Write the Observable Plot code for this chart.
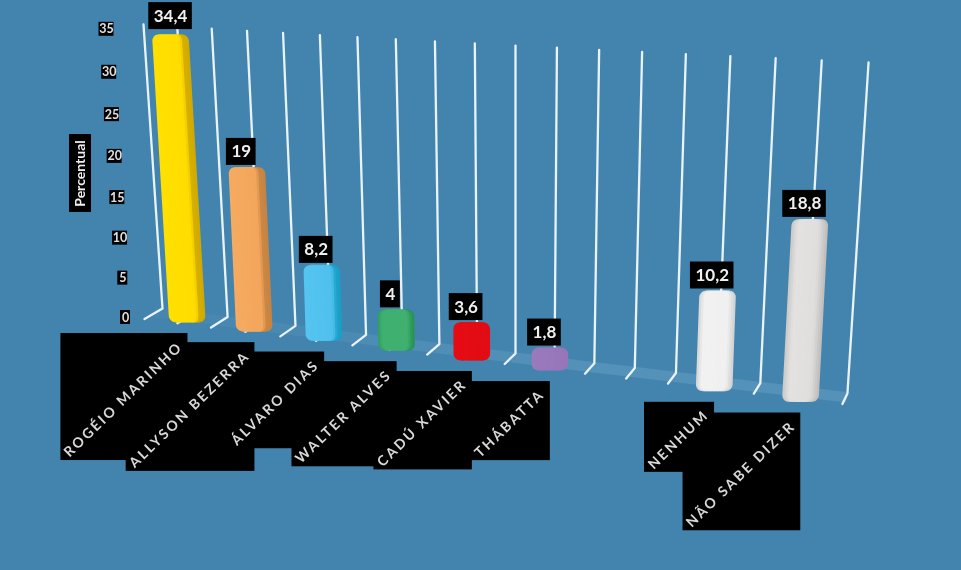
<!DOCTYPE html>
<html>
<head>
<meta charset="utf-8">
<script src="https://cdn.jsdelivr.net/npm/d3@7"></script>
<script src="https://cdn.jsdelivr.net/npm/@observablehq/plot@0.6"></script>
<style>
html,body{margin:0;padding:0;background:#4384ae;overflow:hidden}
svg{display:block;filter:blur(0.55px)}
</style>
</head>
<body>
<div id="chart"></div>
<script>
// ---- data
const categories = ["ROGÉIO MARINHO","ALLYSON BEZERRA","ÁLVARO DIAS","WALTER ALVES","CADÚ XAVIER","THÁBATTA","","NENHUM","NÃO SABE DIZER"];
const values = [34.4,19,8.2,4,3.6,1.8,null,10.2,18.8];
const valueLabels = ["34,4","19","8,2","4","3,6","1,8","","10,2","18,8"];
const ticks = [0,5,10,15,20,25,30,35];
const axisTitle = "Percentual";
// shading across each column: [position, colour]
const shades = [
  [[0,"#ffe000"],[.76,"#ffdc00"],[.84,"#d6b000"],[1,"#cfa800"]],
  [[0,"#f5ab60"],[.74,"#f3a65b"],[.84,"#cb8744"],[1,"#c6823f"]],
  [[0,"#55c4f0"],[.76,"#4fc0ee"],[.86,"#1ea4cc"],[1,"#1a9cc4"]],
  [[0,"#2f9c5c"],[.12,"#40b070"],[.8,"#40b070"],[.92,"#2c9a58"],[1,"#279050"]],
  [[0,"#e60c14"],[1,"#e20c14"]],
  [[0,"#9a7abc"],[1,"#9676b8"]],
  [[0,"#000"],[1,"#000"]],
  [[0,"#d4d4d4"],[.14,"#f1f1f1"],[.8,"#f0f0f0"],[1,"#cfcfcf"]],
  [[0,"#c9c7c5"],[.18,"#e4e2e0"],[.75,"#e0dedc"],[1,"#bdbbb9"]]
];

// ---- the chart's perspective: gridline index -> picture plane
const EDGES = d3.range(19);
const axisMax = 35;
const hingeX = e => 162 + 31.86*e + 0.344*e*e;
const hingeY = e => 308 + 4.22*e + 0.0278*e*e;
const topX   = e => 143 + 33.35*e + 0.385*e*e;
const topY   = e => 24 + 2.11*e;
const plane = (e,v) => { const f=v/axisMax; return [hingeX(e)+(topX(e)-hingeX(e))*f, hingeY(e)+(topY(e)-hingeY(e))*f]; };
const footX = e => hingeX(e) - 18 + 0.72*e;
const footY = e => hingeY(e) + 10.5;

// ---- gridlines
const gridPts = EDGES.flatMap(e => [
  {e,x:footX(e),y:footY(e)},
  {e,x:hingeX(e),y:hingeY(e)},
  {e,x:topX(e),y:topY(e)}
]);

// ---- floor band
const floorPts = d3.range(0,18,1).flatMap(e => [e,e+1].map(k => ({
  e, x:(hingeX(k)+footX(k))/2 + 2, y1:hingeY(k)-1, y2:footY(k)-1, o:0.04+0.2*Math.min(1,e/12)
})));

// ---- columns
const halfW = 18.3, cap = 7, radius = 7;
const shift = e => -7 + 0.25*e;
const sideOffset = e => 10 + 0.25*e;
const rows = categories.map((c,i)=>({c,i,v:values[i],label:valueLabels[i],e:2*i+1})).filter(d=>d.v!=null);
rows.forEach(d=>{
  const off = sideOffset(d.e);
  d.bx = hingeX(d.e)+shift(d.e);
  d.by = hingeY(d.e)+off;
  const [tx,ty] = plane(d.e,d.v);
  d.tx = tx+shift(d.e);
  d.ty = ty+off-cap;
});
const colourAt = (stops,f)=>{
  for(let k=1;k<stops.length;k++) if(f<=stops[k][0]){
    const t=(f-stops[k-1][0])/((stops[k][0]-stops[k-1][0])||1);
    return d3.rgb(d3.interpolateRgb(stops[k-1][1],stops[k][1])(t)).formatHex();
  }
  return stops[stops.length-1][1];
};
const STRIPS = 16;
const stripPts = rows.flatMap(d=>{
  const h = d.by-d.ty;
  const ys = Array.from(new Set([...d3.range(0,radius,0.8),radius,...d3.range(0,radius,0.8).map(q=>h-q).reverse(),h-radius])).filter(q=>q>=0&&q<=h).concat([h]).sort((a,b)=>a-b);
  return d3.range(STRIPS).flatMap(s=>{
    const f0=s/STRIPS,f1=(s+1)/STRIPS,color=colourAt(shades[d.i],(f0+f1)/2);
    const over = s<STRIPS-1 ? 0.8 : 0;   // each strip runs under the next, so no seams
    return ys.map(q=>{
      const near=Math.min(q,h-q), inset= near<radius ? radius-Math.sqrt(Math.max(0,radius*radius-(radius-near)*(radius-near))) : 0;
      const cx=d.tx+(d.bx-d.tx)*q/h, L=cx-halfW+inset, W=2*(halfW-inset);
      return {key:d.i+"-"+s,color,y:d.ty+q,x1:L+f0*W,x2:L+f1*W+over};
    });
  });
});

// ---- text measuring for the black plates
const ctx = document.createElement("canvas").getContext("2d");
const measure = (t,font)=>{ctx.font=font;return ctx.measureText(t).width;};

// value plates
const plates = rows.map(d=>{
  const w=measure(d.label,"700 17px Lato")+10;
  const tall=Math.max(0,d.v-20);
  const cx=d.tx-6+tall*0.4, cy=d.ty-15.5-tall*0.22;
  return {label:d.label,cx,cy,x1:cx-w/2,x2:cx+w/2,y1:cy-13.5,y2:cy+13.5};
});
// category plates
const catSize=14, catSpacing=2.3;
const catPlates = rows.map(d=>{
  const len=measure(d.c,`700 ${catSize}px Lato`)+d.c.length*catSpacing;
  const size=len*Math.SQRT1_2+15;
  const x2=d.bx, y1=d.by+10.5;
  const x1=x2-size, y2=y1+size;
  return {label:d.c,x1,x2,y1,y2,cx:(x1+x2)/2-1,cy:(y1+y2)/2+2.5};
});
// tick labels
const tickRows = ticks.map(t=>{
  const [x,y]=plane(0,t);
  const cx=x-37, cy=y+9+0.3*t-0.012*t*t;
  const w=String(t).length>1?15:10;
  return {t,cx,cy,x1:cx-w/2,x2:cx+w/2,y1:cy-7,y2:cy+7};
});
const titleRow=[{label:axisTitle,cx:80,cy:173,x1:69,x2:91,y1:134,y2:212}];

const plot = Plot.plot({
  width:961,height:570,
  marginTop:0,marginRight:0,marginBottom:0,marginLeft:0,
  x:{type:"linear",domain:[0,961],range:[0,961],axis:null},
  y:{type:"linear",domain:[0,570],range:[0,570],axis:null},
  color:{type:"identity"},
  style:{background:"#4384ae",fontFamily:"Lato"},
  marks:[
    Plot.areaY(floorPts,{x:"x",y1:"y1",y2:"y2",z:"e",fill:"#8fc0dc",fillOpacity:"o"}),
    Plot.line(gridPts,{x:"x",y:"y",z:"e",stroke:"#e9f3f9",strokeWidth:2.3,curve:"linear"}),
    Plot.areaX(stripPts,{y:"y",x1:"x1",x2:"x2",z:"key",fill:"color",curve:"linear"}),
    Plot.rect(plates,{x1:"x1",x2:"x2",y1:"y1",y2:"y2",fill:"#000"}),
    Plot.text(plates,{x:"cx",y:"cy",text:"label",fill:"#f0f0f0",fontSize:17,fontWeight:700}),
    Plot.rect(catPlates,{x1:"x1",x2:"x2",y1:"y1",y2:"y2",fill:"#000"}),
    Plot.text(catPlates,{x:"cx",y:"cy",text:"label",fill:"#d8d8d8",fontSize:catSize,fontWeight:700,rotate:-44}),
    Plot.rect(tickRows,{x1:"x1",x2:"x2",y1:"y1",y2:"y2",fill:"#000"}),
    Plot.text(tickRows,{x:"cx",y:"cy",text:d=>String(d.t),fill:"#e0e0e0",fontSize:12.5,fontWeight:700}),
    Plot.rect(titleRow,{x1:"x1",x2:"x2",y1:"y1",y2:"y2",fill:"#000"}),
    Plot.text(titleRow,{x:"cx",y:"cy",text:"label",fill:"#f0f0f0",fontSize:14,fontWeight:700,rotate:-90})
  ]
});
// the picture's category labels are letter-spaced
const catSet = new Set(categories.filter(Boolean));
plot.querySelectorAll("text").forEach(t=>{ if(catSet.has(t.textContent)) t.style.letterSpacing=catSpacing+"px"; });
document.getElementById("chart").appendChild(plot);
</script>
</body>
</html>
